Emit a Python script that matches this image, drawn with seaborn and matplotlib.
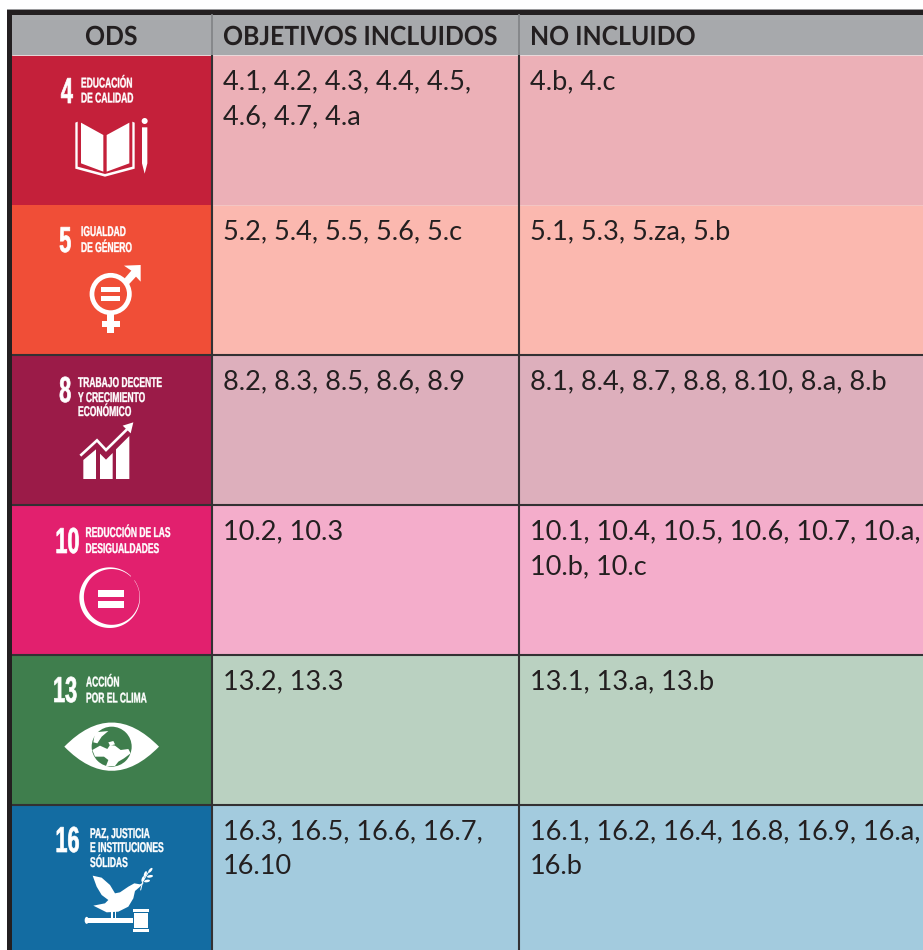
import numpy as np
import pandas as pd
import matplotlib
matplotlib.use('Agg')
import matplotlib.pyplot as plt
import matplotlib.patheffects as pe
from matplotlib.colors import ListedColormap
from matplotlib.patches import Circle, Ellipse, PathPatch, Polygon, Rectangle
from matplotlib.path import Path
from matplotlib.transforms import Affine2D
import seaborn as sns

# table content
headers = ['ODS', 'OBJETIVOS INCLUIDOS', 'NO INCLUIDO']
ods_numbers = ['4', '5', '8', '10', '13', '16']
ods_names = [
    ['EDUCACIÓN', 'DE CALIDAD'],
    ['IGUALDAD', 'DE GÉNERO'],
    ['TRABAJO DECENTE', 'Y CRECIMIENTO', 'ECONÓMICO'],
    ['REDUCCIÓN DE LAS', 'DESIGUALDADES'],
    ['ACCIÓN', 'POR EL CLIMA'],
    ['PAZ, JUSTICIA', 'E INSTITUCIONES', 'SÓLIDAS'],
]
included = [
    ['4.1, 4.2, 4.3, 4.4, 4.5,', '4.6, 4.7, 4.a'],
    ['5.2, 5.4, 5.5, 5.6, 5.c'],
    ['8.2, 8.3, 8.5, 8.6, 8.9'],
    ['10.2, 10.3'],
    ['13.2, 13.3'],
    ['16.3, 16.5, 16.6, 16.7,', '16.10'],
]
not_included = [
    ['4.b, 4.c'],
    ['5.1, 5.3, 5.za, 5.b'],
    ['8.1, 8.4, 8.7, 8.8, 8.10, 8.a, 8.b'],
    ['10.1, 10.4, 10.5, 10.6, 10.7, 10.a,', '10.b, 10.c'],
    ['13.1, 13.a, 13.b'],
    ['16.1, 16.2, 16.4, 16.8, 16.9, 16.a,', '16.b'],
]
strong_colors = ['#C4203A', '#F04E37', '#9B1B48', '#E2206E', '#3F7E4D', '#136CA2']
light_colors = ['#ECB0B7', '#FBB8AF', '#DDAFBC', '#F4ADCB', '#BAD1C1', '#A3CBDE']
header_color = '#A7A9AC'
ink = '#231F20'

W, H = 923, 950
col_x = [12, 212, 519, 923]
row_top = [55, 205, 355, 505, 655, 805]
row_h = 150

sns.set_theme(style='white')
plt.rcParams['font.family'] = ['Lato', 'DejaVu Sans']
fig = plt.figure(figsize=(W / 100, H / 100), dpi=100, facecolor='white')


def px_axes(x0, y0, x1, y1):
    return fig.add_axes([x0 / W, 1 - y1 / H, (x1 - x0) / W, (y1 - y0) / H])


def cell_map(ax, colors):
    frame = pd.DataFrame({'c': np.arange(len(colors))})
    sns.heatmap(frame, ax=ax, cmap=ListedColormap(colors), vmin=-0.5, vmax=len(colors) - 0.5,
                cbar=False, xticklabels=False, yticklabels=False)


# one heatmap per column, since the columns are not the same width
for i in range(3):
    cell_map(px_axes(col_x[i], 14, col_x[i + 1], 55), [header_color])
    cell_map(px_axes(col_x[i], 55, col_x[i + 1], 955), strong_colors if i == 0 else light_colors)

# overlay in pixel coordinates for rules, text and icons
ov = fig.add_axes([0, 0, 1, 1], facecolor='none')
ov.set_xlim(0, W)
ov.set_ylim(H, 0)
ov.axis('off')

# frame and rules
ov.add_patch(Rectangle((7, 9), W - 7, 1, color='#9A9A9C', lw=0))
ov.add_patch(Rectangle((7, 10), W - 7, 4.5, color=ink, lw=0))
ov.add_patch(Rectangle((7, 10), 5, H - 10, color=ink, lw=0))
ov.plot([12, W], [55, 55], color='#E9DADC', lw=0.7)
ov.plot([212, W], [205, 205], color='#F3C6C4', lw=0.7)
for y in row_top[2:]:
    ov.plot([12, W], [y, y], color='#333133', lw=1.5, solid_capstyle='butt')
for x in col_x[1:3]:
    ov.plot([x, x], [14, 55], color='#808285', lw=1.2, solid_capstyle='butt')
    ov.plot([x, x], [55, H], color='#333133', lw=1.5, solid_capstyle='butt')


class Squeeze(pe.AbstractPathEffect):
    # the tile lettering is condensed, no condensed family installed
    def __init__(self, sx, stroke=0, from_right=False):
        super().__init__()
        self.sx = sx
        self.stroke = stroke
        self.from_right = from_right

    def draw_path(self, renderer, gc, tpath, affine, rgbFace=None):
        gc0 = renderer.new_gc()
        gc0.copy_properties(gc)
        if self.stroke:
            gc0.set_linewidth(self.stroke)
            gc0.set_foreground(rgbFace)
        x1 = tpath.get_extents().x1 if self.from_right else 0
        squeeze = Affine2D().translate(-x1, 0).scale(self.sx, 1).translate(x1, 0)
        renderer.draw_path(gc0, tpath, squeeze + affine, rgbFace)
        gc0.restore()


# header and cell text
for label, x in zip(headers, [85, 223, 530]):
    ov.text(x, 45, label, fontsize=19, fontweight='bold', color=ink, va='baseline',
            path_effects=[Squeeze(0.94)])
for top, inc, notinc in zip(row_top, included, not_included):
    for k, line in enumerate(inc):
        ov.text(223, top + 34 + 35 * k, line, fontsize=19.5, color=ink, va='baseline')
    for k, line in enumerate(notinc):
        ov.text(530, top + 34 + 35 * k, line, fontsize=19.5, color=ink, va='baseline')

num_right = [73, 71.7, 71.7, 80, 77.5, 80]
num_base = [103, 252, 402, 553, 702, 852]
name_x = [81, 81, 78, 85.5, 86, 90]
name_base = [[87.5, 102.5], [236, 252], [387, 402, 416], [537, 553], [686.5, 702.5], [838, 852, 867]]
for n in range(6):
    ov.text(num_right[n], num_base[n], ods_numbers[n], fontsize=26, fontweight='bold', color='white',
            family='Liberation Sans', ha='right', va='baseline',
            path_effects=[Squeeze(0.6, 0.5, from_right=True)])
    for line, y in zip(ods_names[n], name_base[n]):
        ov.text(name_x[n], y, line, fontsize=10.2, fontweight='bold', color='white',
                family='Liberation Sans', va='baseline', path_effects=[Squeeze(0.6, 0.25)])


# icons, points measured on a 3x view of the tile (origin y0)
def Z(pts, y0):
    return [(x / 3, y0 + y / 3) for x, y in pts]


def poly(pts, y0, color='white'):
    ov.add_patch(Polygon(Z(pts, y0), closed=True, fc=color, ec='none'))


def bar(x0, y0, x1, y1, o, color='white'):
    poly([(x0, y0), (x1, y0), (x1, y1), (x0, y1)], o, color)


# book and pencil
o = 0
poly([(243, 368), (310, 405), (310, 515), (243, 490)], o)
poly([(320, 405), (388, 368), (388, 490), (320, 515)], o)
poly([(226, 368), (233, 365), (233, 500), (315, 522), (397, 500), (397, 365), (404, 368),
      (404, 506), (315, 530), (226, 506)], o)
ov.add_patch(Circle((434 / 3, 363 / 3), 3, fc='white', ec='none'))
poly([(426, 382), (442, 382), (442, 490), (434, 521), (426, 490)], o)

# gender
o = 0
ov.add_patch(Circle((332 / 3, 882 / 3), 18.7, fc='none', ec='white', lw=3.4))
bar(303, 862, 361, 877, o)
bar(303, 888, 361, 903, o)
poly([(372, 797), (422, 795), (422, 845), (408, 830), (382, 858), (368, 842), (394, 812)], o)
bar(322, 940, 342, 998, o)
bar(305, 962, 361, 982, o)

# growth chart
o = 355
poly([(250, 372), (250, 315), (288, 283), (288, 372)], o)
poly([(300, 372), (300, 296), (318, 314), (338, 294), (338, 372)], o)
poly([(348, 372), (348, 283), (388, 243), (388, 372)], o)
ov.plot(*zip(*Z([(241, 302), (291, 256), (318, 285), (382, 222)], o)), color='white', lw=1.9,
        solid_joinstyle='miter', solid_capstyle='butt')
poly([(368, 212), (400, 202), (392, 235)], o)

# reduced inequalities ring, thick on the left and thinning out on the right
o = 355
t = np.radians(np.linspace(45, 395, 120))
cx, cy, rout = 329, 728, 91
outer = np.c_[cx + rout * np.cos(t), cy - rout * np.sin(t)]
rin = rout - (1 + 6.5 * (1 + np.cos(t - np.radians(180 + 20))))
inner = np.c_[cx + rin * np.cos(t), cy - rin * np.sin(t)]
poly(np.r_[outer, inner[::-1]].tolist(), o)
bar(295, 705, 373, 727, o)
bar(295, 738, 373, 758, o)

# eye and globe
o = 655
eye = Z([(193, 275), (335, 130), (477, 275), (335, 420), (193, 275)], o)
ov.add_patch(PathPatch(Path(eye, [Path.MOVETO, Path.CURVE3, Path.CURVE3, Path.CURVE3, Path.CURVE3]),
                       fc='white', ec='none'))
ov.add_patch(Circle((335 / 3, o + 275 / 3), 20, fc=strong_colors[4], ec='none'))
poly([(285, 232), (325, 228), (305, 245), (292, 265), (280, 262)], o)
poly([(277, 285), (300, 272), (322, 282), (330, 270), (345, 272), (362, 285), (385, 282), (392, 295),
      (372, 310), (355, 320), (345, 333), (318, 333), (325, 315), (312, 305), (285, 305)], o)
poly([(325, 262), (340, 258), (345, 268), (330, 272)], o)

# dove and gavel
o = 655
poly([(278, 662), (305, 668), (330, 690), (345, 715), (360, 712), (385, 695), (403, 685), (420, 688),
      (433, 682), (418, 697), (405, 708), (400, 730), (385, 755), (355, 770), (320, 772), (280, 752),
      (315, 745), (325, 735), (305, 720), (290, 695)], o)
bar(334, 768, 339, 792, o)
bar(344, 768, 349, 792, o)
bar(258, 788, 400, 803, o)
ov.add_patch(Ellipse((260 / 3, o + 796 / 3), 4, 7, fc='white', ec='none'))
bar(403, 773, 445, 819, o)
bar(400, 762, 448, 771, o)
bar(400, 821, 448, 830, o)
ov.plot(*zip(*Z([(422, 705), (428, 680), (445, 652)], o)), color='white', lw=0.7)
for lx, ly, ang in [(451, 646, 50), (450, 664, 10), (436, 657, 70), (429, 672, 70), (441, 678, 10)]:
    ov.add_patch(Ellipse((lx / 3, o + ly / 3), 6, 2.6, angle=-ang, fc='white', ec='none'))

fig.savefig('out.png', dpi=100)
